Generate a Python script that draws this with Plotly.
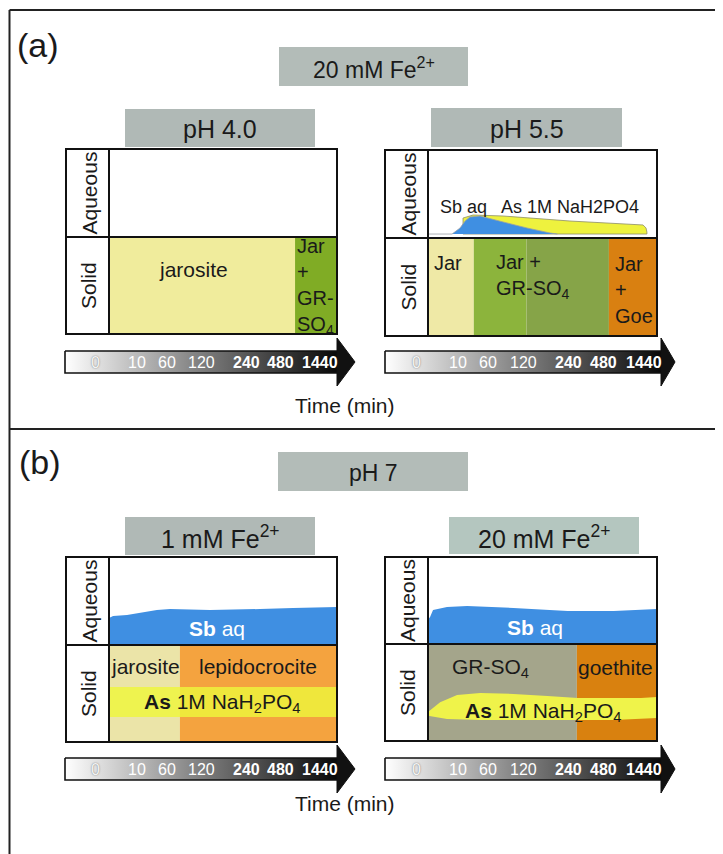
import plotly.graph_objects as go

W, H = 723, 854
OFF = 8                      # browser body margin
FW, FH = W - OFF, H - OFF    # figure size so that page pixels map 1:1
FONT = "Liberation Sans, Arial, sans-serif"
TXT = "#1a1a1a"

# ---------------- data ----------------
TIME_TICKS = ["0", "10", "60", "120", "240", "480", "1440"]
TICK_FRAC = [0.112, 0.262, 0.372, 0.500, 0.663, 0.789, 0.935]
TICK_BOLD = [False, False, False, False, True, True, True]

# (a) 20 mM Fe2+, pH 4.0 : solid phases along the time line (fraction of time line)
A1_PHASES = ["jarosite", "Jar<br>+<br>GR-<br>SO<sub>4</sub>"]
A1_START = [0.0, 0.816]
A1_END = [0.816, 1.0]

# (a) 20 mM Fe2+, pH 5.5
A2_PHASES = ["Jar", "Jar +<br>GR-SO<sub>4</sub>", "", "Jar<br>+<br>Goe"]
A2_START = [0.0, 0.20, 0.43, 0.79]
A2_END = [0.20, 0.43, 0.79, 1.0]
A2_SB_X = [0.0, 0.105, 0.140, 0.162, 0.183, 0.227, 0.328, 0.432, 0.533, 0.565]
A2_SB_Y = [0.045, 0.045, 0.114, 0.193, 0.239, 0.250, 0.182, 0.114, 0.057, 0.045]
A2_AS_X = [0.153, 0.197, 0.328, 0.620, 0.939, 0.952, 0.956]
A2_AS_Y = [0.227, 0.261, 0.250, 0.193, 0.148, 0.114, 0.068]
A2_BASE = 0.045
A2_AQ_LABELS = ["Sb aq", "As 1M NaH2PO4"]

# (b) pH 7, 1 mM Fe2+
B1_PHASES = ["jarosite", "lepidocrocite"]
B1_START = [0.0, 0.311]
B1_END = [0.311, 1.0]
B1_SB_X = [0.0, 0.018, 0.079, 0.210, 0.268, 0.443, 0.662, 0.807, 1.0]
B1_SB_Y = [0.307, 0.330, 0.341, 0.398, 0.409, 0.398, 0.409, 0.420, 0.432]
B1_AS_X = [0.0, 1.0]
B1_AS_LOW = [0.258, 0.258]
B1_AS_HIGH = [0.567, 0.567]

# (b) pH 7, 20 mM Fe2+
B2_PHASES = ["GR-SO<sub>4</sub>", "goethite"]
B2_START = [0.0, 0.65]
B2_END = [0.65, 1.0]
B2_SB_X = [0.0, 0.009, 0.022, 0.083, 0.171, 0.373, 0.610, 0.811, 1.0]
B2_SB_Y = [0.28, 0.31, 0.39, 0.425, 0.437, 0.414, 0.379, 0.379, 0.402]
B2_AS_TOP_X = [0.0, 0.053, 0.127, 0.228, 0.373, 0.522, 0.654, 0.811, 0.930, 1.0]
B2_AS_TOP_Y = [0.30, 0.40, 0.474, 0.495, 0.485, 0.464, 0.443, 0.443, 0.443, 0.454]
B2_AS_BOT_X = [1.0, 0.811, 0.522, 0.228, 0.083, 0.0]
B2_AS_BOT_Y = [0.237, 0.216, 0.216, 0.216, 0.227, 0.26]

AS_LABEL = "<b>As</b> 1M NaH<sub>2</sub>PO<sub>4</sub>"
SB_LABEL = "<b>Sb</b> aq"

# ---------------- layout geometry (page pixels) ----------------
PANELS = {
    "A1": dict(left=66, col=109, right=337, top=149, mid=237, bottom=334),
    "A2": dict(left=385, col=428, right=657, top=150, mid=238, bottom=336),
    "B1": dict(left=66, col=109, right=337, top=557, mid=645, bottom=742),
    "B2": dict(left=385, col=428, right=657, top=557, mid=644, bottom=741),
}
ARROWS = [(65, 338, 355, 362), (385, 662, 675, 362),
          (65, 338, 355, 769), (385, 662, 675, 769)]


def px(x):
    return (x - OFF) / FW


def py(y):
    return 1 - (y - OFF) / FH


fig = go.Figure()
lay = {}
lay["xaxis"] = dict(domain=[0, 1], range=[OFF, W], visible=False, fixedrange=True)
lay["yaxis"] = dict(domain=[0, 1], range=[H, OFF], visible=False, fixedrange=True)

AX = {}
n = 2
for key, g in PANELS.items():
    for part in ("aq", "so"):
        yd = [py(g["mid"]), py(g["top"])] if part == "aq" else [py(g["bottom"]), py(g["mid"])]
        lay[f"xaxis{n}"] = dict(domain=[px(g["col"]), px(g["right"])], range=[0, 1],
                                visible=False, fixedrange=True, anchor=f"y{n}")
        lay[f"yaxis{n}"] = dict(domain=yd, range=[0, 1], visible=False,
                                fixedrange=True, anchor=f"x{n}")
        AX[(key, part)] = (f"x{n}", f"y{n}")
        n += 1


def poly(key, part, xs, ys, fill, line=None):
    xa, ya = AX[(key, part)]
    fig.add_trace(go.Scatter(
        x=xs, y=ys, fill="toself", fillcolor=fill,
        mode="lines" if line else "none",
        line=line if line else dict(width=0),
        xaxis=xa, yaxis=ya, hoverinfo="skip", showlegend=False))


def stages(key, starts, ends, colors):
    for s, e, c in zip(starts, ends, colors):
        poly(key, "so", [s, e, e, s, s], [0, 0, 1, 1, 0], c)


annotations = []
shapes = []


def label(key, part, x, y, text, size=21, color=TXT, xanchor="center", align="center"):
    xa, ya = AX[(key, part)]
    annotations.append(dict(x=x, y=y, xref=xa, yref=ya, text=text, showarrow=False,
                            xanchor=xanchor, yanchor="middle", align=align,
                            font=dict(family=FONT, size=size, color=color)))


def ctext(x, y, text, size, color=TXT, angle=0, bold=False, shadow=None):
    f = dict(family=FONT, size=size, color=color)
    if bold:
        f["weight"] = "bold"
    if shadow:
        f["shadow"] = shadow
    annotations.append(dict(x=x, y=y, xref="x", yref="y", text=text, showarrow=False,
                            xanchor="center", yanchor="middle", textangle=angle, font=f))


# ---- panel A1 ----
stages("A1", A1_START, A1_END, ["#f0ec9c", "#80ac25"])
label("A1", "so", 0.37, 0.66, A1_PHASES[0])
label("A1", "so", 0.815, 0.49, A1_PHASES[1], size=20, xanchor="left", align="left")

# ---- panel A2 ----
stages("A2", A2_START, A2_END, ["#efe9a6", "#8cb43c", "#86a448", "#d98011"])
poly("A2", "aq", A2_AS_X + [A2_AS_X[-1], A2_AS_X[0], A2_AS_X[0]],
     A2_AS_Y + [A2_BASE, A2_BASE, A2_AS_Y[0]], "#eef23e",
     line=dict(color="#8d8d6a", width=0.8))
poly("A2", "aq", A2_SB_X, A2_SB_Y, "#3f8fe2", line=dict(color="#9aa0a6", width=0.8))
label("A2", "aq", 0.044, 0.35, A2_AQ_LABELS[0], size=18, xanchor="left", align="left")
label("A2", "aq", 0.312, 0.35, A2_AQ_LABELS[1], size=18, xanchor="left", align="left")
label("A2", "so", 0.018, 0.745, A2_PHASES[0], size=20, xanchor="left", align="left")
label("A2", "so", 0.29, 0.61, A2_PHASES[1], size=20, xanchor="left", align="left")
label("A2", "so", 0.806, 0.47, A2_PHASES[3], size=20, xanchor="left", align="left")

# ---- panel B1 ----
stages("B1", B1_START, B1_END, ["#ebe4a8", "#f4a33f"])
poly("B1", "so", B1_AS_X + B1_AS_X[::-1] + [B1_AS_X[0]],
     B1_AS_LOW + B1_AS_HIGH[::-1] + [B1_AS_LOW[0]], "rgba(238,246,60,0.82)")
poly("B1", "aq", B1_SB_X + [1.0, 0.0, 0.0], B1_SB_Y + [0.0, 0.0, B1_SB_Y[0]], "#3f8fe2")
label("B1", "aq", 0.474, 0.19, SB_LABEL, color="white")
label("B1", "so", 0.158, 0.775, B1_PHASES[0])
label("B1", "so", 0.654, 0.775, B1_PHASES[1])
label("B1", "so", 0.496, 0.405, AS_LABEL)

# ---- panel B2 ----
stages("B2", B2_START, B2_END, ["#a4a58b", "#d9810f"])
poly("B2", "so", B2_AS_TOP_X + B2_AS_BOT_X, B2_AS_TOP_Y + B2_AS_BOT_Y, "#eff34a")
poly("B2", "aq", B2_SB_X + [1.0, 0.0, 0.0], B2_SB_Y + [0.0, 0.0, B2_SB_Y[0]], "#3f8fe2")
label("B2", "aq", 0.469, 0.185, SB_LABEL, color="white")
label("B2", "so", 0.272, 0.755, B2_PHASES[0])
label("B2", "so", 0.82, 0.755, B2_PHASES[1])
label("B2", "so", 0.504, 0.30, AS_LABEL)

# ---- panel frames + side labels ----
for key, g in PANELS.items():
    shapes.append(dict(type="rect", xref="x", yref="y", x0=g["left"], x1=g["right"],
                       y0=g["top"], y1=g["bottom"], line=dict(color="#111", width=2),
                       layer="above"))
    shapes.append(dict(type="line", xref="x", yref="y", x0=g["col"], x1=g["col"],
                       y0=g["top"], y1=g["bottom"], line=dict(color="#111", width=2),
                       layer="above"))
    shapes.append(dict(type="line", xref="x", yref="y", x0=g["left"], x1=g["right"],
                       y0=g["mid"], y1=g["mid"], line=dict(color="#111", width=2),
                       layer="above"))
    cx = (g["left"] + g["col"]) / 2 + 1
    ctext(cx, (g["top"] + g["mid"]) / 2, "Aqueous", 21, angle=-90)
    ctext(cx, (g["mid"] + g["bottom"]) / 2, "Solid", 21, angle=-90)

# ---- time arrows ----
for (x0, x1, xt, cy) in ARROWS:
    fig.add_trace(go.Scatter(
        x=[x0, x1, x1, x0, x0], y=[cy - 11, cy - 11, cy + 11, cy + 11, cy - 11],
        fill="toself", mode="lines", line=dict(color="#111", width=1.6),
        fillgradient=dict(type="horizontal",
                          colorscale=[[0, "#ffffff"], [0.45, "#8a8a8a"], [1, "#080808"]]),
        xaxis="x", yaxis="y", hoverinfo="skip", showlegend=False))
    fig.add_trace(go.Scatter(
        x=[x1 - 1, xt, x1 - 1, x1 - 1], y=[cy - 24, cy, cy + 24, cy - 24],
        fill="toself", fillcolor="#111", mode="lines", line=dict(color="#111", width=1),
        xaxis="x", yaxis="y", hoverinfo="skip", showlegend=False))
    for t, f, b in zip(TIME_TICKS, TICK_FRAC, TICK_BOLD):
        if t == "0":
            ctext(x0 + f * (x1 - x0), cy, t, 16, color="#f4f4f4",
                  shadow="0px 0px 1.5px #666")
        else:
            ctext(x0 + f * (x1 - x0), cy, t, 16, color="white", bold=b)

ctext(345, 405, "Time (min)", 21)
ctext(345, 803, "Time (min)", 21)

# ---- title boxes ----
BOXES = [
    (279, 468, 47, 86, "#b3bcb8", "20 mM Fe<sup>2+</sup>"),
    (278, 468, 452, 491, "#b3bcb8", "pH 7"),
    (125, 315, 109, 147, "#b0b9b6", "pH 4.0"),
    (431, 622, 108, 147, "#b0b9b6", "pH 5.5"),
    (125, 315, 517, 555, "#b0b9b6", "1 mM Fe<sup>2+</sup>"),
    (449, 639, 517, 554, "#b4c6bf", "20 mM Fe<sup>2+</sup>"),
]
for i, (a, b, c, d, col, t) in enumerate(BOXES):
    shapes.append(dict(type="rect", xref="x", yref="y", x0=a, x1=b, y0=c, y1=d,
                       fillcolor=col, line=dict(width=0), layer="below"))
    ctext((a + b) / 2, (c + d) / 2 + 1, t, 23 if i < 2 else 25)

ctext(38, 45, "(a)", 34)
ctext(40, 462, "(b)", 34)

# ---- outer frame ----
for (xa, xb, ya, yb) in [(9.5, W, 10, 10), (9.5, 9.5, 10, H), (9.5, W, 429, 429)]:
    shapes.append(dict(type="line", xref="x", yref="y", x0=xa, x1=xb, y0=ya, y1=yb,
                       line=dict(color="#222", width=2), layer="above"))

fig.update_layout(
    width=FW, height=FH, margin=dict(l=0, r=0, t=0, b=0),
    paper_bgcolor="white", plot_bgcolor="rgba(0,0,0,0)",
    showlegend=False, annotations=annotations, shapes=shapes, **lay)

fig.write_html("out.html", config={"displayModeBar": False})
